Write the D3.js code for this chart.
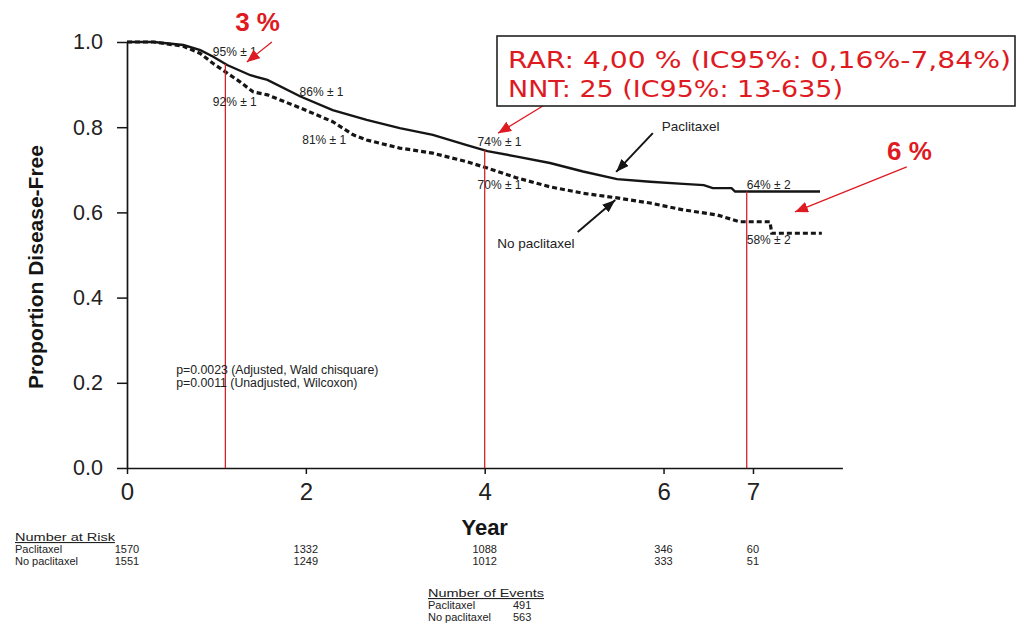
<!DOCTYPE html>
<html>
<head>
<meta charset="utf-8">
<script src="https://cdn.jsdelivr.net/npm/d3@7"></script>
<style>
  body { margin: 0; background: #fff; }
  svg { display: block; }
</style>
</head>
<body>
<svg id="chart" width="1019" height="629"></svg>
<script>
// Kaplan-Meier disease-free survival, [year, proportion]
const paclitaxelCurve = [
  [0, 1.0], [0.3, 1.0], [0.63, 0.993], [0.82, 0.981], [0.96, 0.966], [1.12, 0.946],
  [1.38, 0.922], [1.57, 0.911], [1.94, 0.872], [2.30, 0.840], [2.68, 0.817],
  [3.05, 0.798], [3.42, 0.782], [3.80, 0.758], [4.03, 0.744], [4.36, 0.731],
  [4.73, 0.716], [5.10, 0.696], [5.48, 0.678], [5.85, 0.672], [6.22, 0.667],
  [6.45, 0.664], [6.55, 0.657], [6.76, 0.657], [6.80, 0.649], [7.75, 0.649]
];
const noPaclitaxelCurve = [
  [0, 1.0], [0.3, 1.0], [0.63, 0.990], [0.82, 0.973], [0.96, 0.950], [1.12, 0.927],
  [1.26, 0.907], [1.41, 0.883], [1.57, 0.876], [1.94, 0.845], [2.30, 0.813],
  [2.53, 0.782], [2.68, 0.770], [3.05, 0.751], [3.42, 0.739], [3.80, 0.719],
  [4.03, 0.704], [4.36, 0.681], [4.73, 0.660], [5.10, 0.645], [5.48, 0.634],
  [5.85, 0.622], [6.22, 0.606], [6.60, 0.594], [6.85, 0.578], [7.19, 0.578],
  [7.21, 0.551], [7.77, 0.551]
];

const yTicks = [0, 0.2, 0.4, 0.6, 0.8, 1.0];
const xTicks = [0, 2, 4, 6, 7];

const markerYears = [1.1, 4.0, 6.93];

// Survival estimates printed next to the curves
const estimateLabels = ["95% ± 1", "92% ± 1", "86% ± 1", "81% ± 1", "74% ± 1", "70% ± 1", "64% ± 2", "58% ± 2"];

const pValues = ["p=0.0023 (Adjusted, Wald chisquare)", "p=0.0011 (Unadjusted, Wilcoxon)"];

const armNames = ["Paclitaxel", "No paclitaxel"];
const riskYears = [0, 2, 4, 6, 7];
const riskPaclitaxel = [1570, 1332, 1088, 346, 60];
const riskNoPaclitaxel = [1551, 1249, 1012, 333, 51];
const eventCounts = [491, 563];

const boxLines = ["RAR: 4,00 % (IC95%: 0,16%-7,84%)", "NNT: 25 (IC95%: 13-635)"];
const gainLabels = ["3 %", "6 %"];

const FONT = "'Liberation Sans', Arial, Helvetica, sans-serif";
const RED = "#de1a22";
const INK = "#151515";

const svg = d3.select("#chart");
svg.append("rect").attr("width", 1019).attr("height", 629).attr("fill", "#fff");

const x = d3.scaleLinear().domain([0, 8]).range([127, 842.4]);
const y = d3.scaleLinear().domain([0, 1]).range([468, 42]);

// arrow heads
const defs = svg.append("defs");
function arrowMarker(id, color, len, wid) {
  defs.append("marker")
    .attr("id", id)
    .attr("markerUnits", "userSpaceOnUse")
    .attr("viewBox", `0 0 ${len} ${wid}`)
    .attr("refX", len).attr("refY", wid / 2)
    .attr("markerWidth", len).attr("markerHeight", wid)
    .attr("orient", "auto")
    .append("path")
    .attr("d", `M0,0L${len},${wid / 2}L0,${wid}Z`)
    .attr("fill", color);
}
arrowMarker("headRed", RED, 13, 11);
arrowMarker("headBlack", INK, 13, 10);

// axes
const yAxis = svg.append("g")
  .attr("transform", `translate(${x(0)},0)`)
  .call(d3.axisLeft(y).tickValues(yTicks).tickFormat(d3.format(".1f"))
    .tickSize(10).tickSizeOuter(0).tickPadding(14));
yAxis.selectAll("text").attr("font-family", FONT).attr("font-size", 21.5).attr("fill", "#222");

const xAxis = svg.append("g")
  .attr("transform", `translate(0,${y(0)})`)
  .call(d3.axisBottom(x).tickValues(xTicks).tickFormat(d3.format("d"))
    .tickSize(6).tickSizeOuter(0).tickPadding(9));
xAxis.selectAll("text").attr("font-family", FONT).attr("font-size", 24).attr("fill", "#222");

[yAxis, xAxis].forEach(g => {
  g.select(".domain").attr("stroke", INK).attr("stroke-width", 1.7);
  g.selectAll(".tick line").attr("stroke", INK).attr("stroke-width", 1.5);
});

svg.append("text")
  .attr("transform", `translate(43,${(y(0) + y(1)) / 2 + 12}) rotate(-90)`)
  .attr("text-anchor", "middle")
  .attr("font-family", FONT).attr("font-size", 21).attr("font-weight", "bold")
  .attr("fill", INK)
  .text("Proportion Disease-Free");

svg.append("text")
  .attr("x", x(4)).attr("y", 535)
  .attr("text-anchor", "middle")
  .attr("font-family", FONT).attr("font-size", 22).attr("font-weight", "bold")
  .attr("fill", INK)
  .text("Year");

// curves
const line = d3.line().x(d => x(d[0])).y(d => y(d[1]));

svg.append("path")
  .datum(noPaclitaxelCurve)
  .attr("d", line)
  .attr("fill", "none")
  .attr("stroke", INK).attr("stroke-width", 3.2)
  .attr("stroke-dasharray", "5,3");

svg.append("path")
  .datum(paclitaxelCurve)
  .attr("d", line)
  .attr("fill", "none")
  .attr("stroke", INK).attr("stroke-width", 2.4);

// value of a curve at a given time (linear between read points)
function valueAt(curve, t) {
  for (let i = 1; i < curve.length; i++) {
    if (t <= curve[i][0]) {
      const [t0, v0] = curve[i - 1], [t1, v1] = curve[i];
      return v0 + (v1 - v0) * (t - t0) / (t1 - t0);
    }
  }
  return curve[curve.length - 1][1];
}

// red reference lines
svg.append("g").selectAll("line")
  .data(markerYears)
  .join("line")
  .attr("x1", d => x(d)).attr("x2", d => x(d))
  .attr("y1", d => y(valueAt(paclitaxelCurve, d)))
  .attr("y2", y(0))
  .attr("stroke", "#d4222a").attr("stroke-width", 1.3);

// estimate labels
const estimatePos = [
  [0.96, 0.967], [0.96, 0.850], [1.93, 0.873], [1.96, 0.761],
  [3.92, 0.756], [3.92, 0.655], [6.93, 0.655], [6.93, 0.526]
];
svg.append("g").selectAll("text")
  .data(estimateLabels)
  .join("text")
  .attr("x", (d, i) => x(estimatePos[i][0]))
  .attr("y", (d, i) => y(estimatePos[i][1]))
  .attr("font-family", FONT).attr("font-size", 12).attr("fill", "#222")
  .text(d => d);

// curve names with pointers
const armLabelPos = [[5.98, 0.791], [4.14, 0.516]];
svg.append("g").selectAll("text")
  .data(armNames)
  .join("text")
  .attr("x", (d, i) => x(armLabelPos[i][0]))
  .attr("y", (d, i) => y(armLabelPos[i][1]))
  .attr("font-family", FONT).attr("font-size", 13.5).attr("fill", "#222")
  .text(d => d);

const armPointers = [
  [[5.88, 0.786], [5.47, 0.695]],
  [[5.04, 0.554], [5.46, 0.629]]
];
svg.append("g").selectAll("line")
  .data(armPointers)
  .join("line")
  .attr("x1", d => x(d[0][0])).attr("y1", d => y(d[0][1]))
  .attr("x2", d => x(d[1][0])).attr("y2", d => y(d[1][1]))
  .attr("stroke", INK).attr("stroke-width", 2)
  .attr("marker-end", "url(#headBlack)");

// p-values
svg.append("g").selectAll("text")
  .data(pValues)
  .join("text")
  .attr("x", x(0.55))
  .attr("y", (d, i) => 374 + i * 13)
  .attr("font-family", FONT).attr("font-size", 12.3).attr("fill", "#222")
  .text(d => d);

// red gain annotations
const gainText = [[1.46, 1.026], [8.75, 0.724]];
svg.append("g").selectAll("text")
  .data(gainLabels)
  .join("text")
  .attr("x", (d, i) => x(gainText[i][0]))
  .attr("y", (d, i) => y(gainText[i][1]))
  .attr("text-anchor", "middle")
  .attr("font-family", FONT).attr("font-size", 26).attr("font-weight", "bold")
  .attr("fill", RED)
  .text(d => d);

const redPointers = [
  [[1.62, 1.0], [1.34, 0.953]],
  [[4.76, 0.864], [4.15, 0.786]],
  [[8.72, 0.707], [7.47, 0.601]]
];
svg.append("g").selectAll("line")
  .data(redPointers)
  .join("line")
  .attr("x1", d => x(d[0][0])).attr("y1", d => y(d[0][1]))
  .attr("x2", d => x(d[1][0])).attr("y2", d => y(d[1][1]))
  .attr("stroke", RED).attr("stroke-width", 1.3)
  .attr("marker-end", "url(#headRed)");

// RAR / NNT box
svg.append("rect")
  .attr("x", 497).attr("y", 36).attr("width", 518).attr("height", 70)
  .attr("fill", "#fff").attr("stroke", "#222").attr("stroke-width", 1.6);
const boxWidths = [503, 335];
svg.append("g").selectAll("text")
  .data(boxLines)
  .join("text")
  .attr("x", 508)
  .attr("y", (d, i) => 68 + i * 29)
  .attr("font-family", "'DejaVu Sans', Verdana, Tahoma, sans-serif")
  .attr("font-size", 23).attr("fill", RED)
  .attr("textLength", (d, i) => boxWidths[i])
  .attr("lengthAdjust", "spacingAndGlyphs")
  .text(d => d);

// number at risk table
const risk = svg.append("g").attr("font-family", FONT).attr("font-size", 11).attr("fill", "#222");
risk.append("text").attr("x", 15).attr("y", 541)
  .attr("textLength", 100).attr("lengthAdjust", "spacingAndGlyphs")
  .attr("text-decoration", "underline")
  .text("Number at Risk");
[riskPaclitaxel, riskNoPaclitaxel].forEach((row, r) => {
  const yy = 553 + r * 12;
  risk.append("text").attr("x", 15).attr("y", yy).text(armNames[r]);
  risk.selectAll(null)
    .data(row)
    .join("text")
    .attr("x", (d, i) => x(riskYears[i]))
    .attr("y", yy)
    .attr("text-anchor", "middle")
    .text(d => d);
});

// number of events table
const ev = svg.append("g").attr("font-family", FONT).attr("font-size", 11).attr("fill", "#222");
ev.append("text").attr("x", 428).attr("y", 597)
  .attr("textLength", 116).attr("lengthAdjust", "spacingAndGlyphs")
  .attr("text-decoration", "underline")
  .text("Number of Events");
armNames.forEach((name, r) => {
  const yy = 609 + r * 12;
  ev.append("text").attr("x", 428).attr("y", yy).text(name);
  ev.append("text").attr("x", 513).attr("y", yy).text(eventCounts[r]);
});
</script>
</body>
</html>
